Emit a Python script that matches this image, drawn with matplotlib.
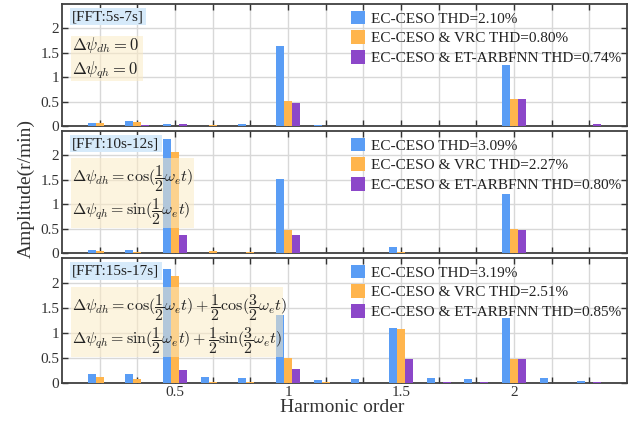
import matplotlib
matplotlib.use("Agg")
import matplotlib.pyplot as plt
from matplotlib.ticker import FixedLocator, FixedFormatter

plt.rcParams['font.family'] = ['Liberation Serif', 'DejaVu Serif']
plt.rcParams['mathtext.fontset'] = 'cm'

harmonics = [1/6, 2/6, 3/6, 4/6, 5/6, 6/6, 7/6, 8/6, 9/6, 10/6, 11/6, 12/6, 13/6, 14/6]
tick_labels = ['', '', '0.5', '', '', '1', '', '', '1.5', '', '', '2', '', '']

blue1 = [0.06, 0.10, 0.04, 0.00, 0.04, 1.63, 0.02, 0.00, 0.01, 0.00, 0.00, 1.26, 0.01, 0.00]
orange1 = [0.06, 0.08, 0.00, 0.03, 0.00, 0.51, 0.01, 0.00, 0.00, 0.00, 0.01, 0.55, 0.01, 0.00]
purple1 = [0.00, 0.02, 0.04, 0.01, 0.00, 0.47, 0.01, 0.00, 0.00, 0.00, 0.01, 0.55, 0.01, 0.04]

blue2 = [0.07, 0.06, 2.33, 0.01, 0.00, 1.52, 0.01, 0.00, 0.12, 0.00, 0.01, 1.21, 0.01, 0.00]
orange2 = [0.04, 0.03, 2.06, 0.05, 0.03, 0.48, 0.00, 0.00, 0.03, 0.01, 0.01, 0.50, 0.00, 0.00]
purple2 = [0.00, 0.00, 0.37, 0.00, 0.00, 0.37, 0.00, 0.01, 0.01, 0.01, 0.00, 0.48, 0.00, 0.01]

blue3 = [0.19, 0.18, 2.28, 0.13, 0.10, 1.36, 0.06, 0.08, 1.10, 0.095, 0.08, 1.30, 0.11, 0.05]
orange3 = [0.12, 0.075, 2.15, 0.03, 0.03, 0.50, 0.03, 0.00, 1.08, 0.00, 0.00, 0.49, 0.00, 0.00]
purple3 = [0.00, 0.00, 0.27, 0.00, 0.00, 0.29, 0.00, 0.00, 0.49, 0.02, 0.03, 0.49, 0.00, 0.03]

thd = [["2.10%", "0.80%", "0.74%"], ["3.09%", "2.27%", "0.80%"], ["3.19%", "2.51%", "0.85%"]]
fft_labels = ["[FFT:5s-7s]", "[FFT:10s-12s]", "[FFT:15s-17s]"]
eqs = [
    [r"$\Delta\psi_{dh}=0$", r"$\Delta\psi_{qh}=0$"],
    [r"$\Delta\psi_{dh}=\cos(\dfrac{1}{2}\omega_e t)$", r"$\Delta\psi_{qh}=\sin(\dfrac{1}{2}\omega_e t)$"],
    [r"$\Delta\psi_{dh}=\cos(\dfrac{1}{2}\omega_e t)+\dfrac{1}{2}\cos(\dfrac{3}{2}\omega_e t)$",
     r"$\Delta\psi_{qh}=\sin(\dfrac{1}{2}\omega_e t)+\dfrac{1}{2}\sin(\dfrac{3}{2}\omega_e t)$"],
]
series_names = ["EC-CESO", "EC-CESO & VRC", "EC-CESO & ET-ARBFNN"]
colors = ["#5A9DF5", "#FFB54D", "#8C47C9"]

data = [(blue1, orange1, purple1), (blue2, orange2, purple2), (blue3, orange3, purple3)]

fig = plt.figure(figsize=(6.44, 4.21), dpi=100)
L, W = 62/644, 565/644
rects = [(4, 126), (131, 253), (258, 383)]
# equation box extents (pixels, in figure), line positions and font sizes
boxes = [(71, 143, 36, 81), (71, 194, 158, 228), (71, 283, 287, 357)]
line_pos = [(0.21, 0.76), (0.29, 0.77), (0.29, 0.76)]
eq_fs = [12, 11.5, 11.5]
w = 0.035
for i, (top, bot) in enumerate(rects):
    ax = fig.add_axes([L, 1 - bot/421, W, (bot - top)/421])
    for j, vals in enumerate(data[i]):
        xs = [h + (j - 1) * w for h in harmonics]
        ax.bar(xs, vals, width=w, color=colors[j], zorder=3,
               label=f"{series_names[j]} THD={thd[i][j]}")
    ax.set_xlim(0, 2.5)
    ax.set_ylim(0, 2.5)
    ax.xaxis.set_major_locator(FixedLocator(harmonics))
    if i == 2:
        ax.xaxis.set_major_formatter(FixedFormatter(tick_labels))
    else:
        ax.xaxis.set_major_formatter(FixedFormatter([''] * len(harmonics)))
    ax.set_yticks([0, 0.5, 1, 1.5, 2])
    ax.set_yticklabels(['0', '0.5', '1', '1.5', '2'])
    ax.tick_params(direction='in', top=True, right=True, length=4, width=1,
                   labelsize=11, colors='#333333', pad=2)
    ax.grid(True, color='#D8D8D8', linewidth=1.0, zorder=0)
    ax.set_axisbelow(True)
    for s in ax.spines.values():
        s.set_linewidth(1.3)
        s.set_color('#404040')
    leg = ax.legend(loc='upper left', bbox_to_anchor=(0.495, 1.02), frameon=False,
                    fontsize=11, handlelength=0.9, handleheight=1.0,
                    handletextpad=0.4, labelspacing=0.3, borderaxespad=0.2)
    for t in leg.get_texts():
        t.set_color('#222222')
    ax.text(0.018, 0.95, fft_labels[i], transform=ax.transAxes, fontsize=11,
            va='top', ha='left', color='#222222', zorder=5,
            bbox=dict(boxstyle='square,pad=0.15', facecolor='#D6EAFA', edgecolor='none'))
    x0, x1, y0, y1 = boxes[i]
    fig.patches.append(plt.Rectangle((x0/644, 1 - y1/421), (x1 - x0)/644, (y1 - y0)/421,
                                     transform=fig.transFigure, facecolor='#FBEBC5',
                                     alpha=0.55, edgecolor='none', zorder=5))
    hgt = y1 - y0
    for k, line in enumerate(eqs[i]):
        yc = y0 + hgt * line_pos[i][k]
        fig.text(72/644, 1 - yc/421, line, fontsize=eq_fs[i], ha='left', va='center',
                 color='#222222', zorder=6)

fig.text(0.040, 0.553, "Amplitude(r/min)", rotation=90, ha='center', va='center',
         fontsize=14, color='#333333')
fig.text(0.532, 0.031, "Harmonic order", ha='center', va='center', fontsize=14, color='#333333')
fig.savefig("out.png", dpi=100)
